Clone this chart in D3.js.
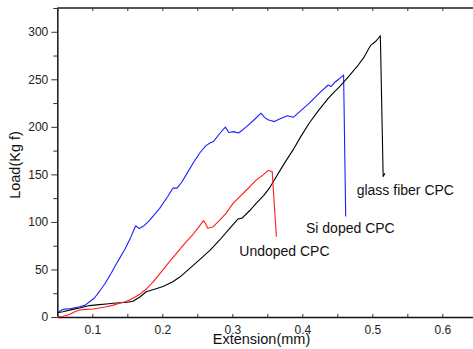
<!DOCTYPE html>
<html><head><meta charset="utf-8">
<script src="https://cdn.jsdelivr.net/npm/d3@7"></script>
<style>
html,body{margin:0;padding:0;background:#fff;}
svg{display:block;font-family:Arial,"Liberation Sans",sans-serif;}
</style></head>
<body>
<svg id="chart" width="473" height="349"></svg>
<script>
// ---- data (extension mm, load Kg f) ----
const siDoped = [
 [0.050,4],[0.053,6],[0.058,8],[0.070,9],[0.082,10.8],[0.090,12.5],[0.096,16],[0.103,20],
 [0.110,26.6],[0.118,35],[0.127,46],[0.136,58],[0.146,70.5],[0.155,84],[0.162,96],[0.167,93],
 [0.174,96],[0.182,102],[0.196,114],[0.208,127],[0.215,135.5],[0.221,135.5],[0.228,142],
 [0.234,149.5],[0.245,163],[0.254,173],[0.262,180],[0.268,183],[0.273,184.5],[0.282,193],
 [0.290,199.7],[0.295,194],[0.302,195],[0.309,193.5],[0.320,200],[0.332,208],[0.341,214.4],
 [0.346,210],[0.351,207.4],[0.360,205.5],[0.370,209],[0.379,211.6],[0.387,210],[0.398,217],
 [0.410,225],[0.425,236],[0.437,244],[0.441,242.4],[0.446,246.6],[0.452,250],[0.459,254.4],
 [0.462,105.6]
];
const glassFiber = [
 [0.050,4.5],[0.058,5.5],[0.072,8],[0.085,10],[0.096,12],[0.110,13],[0.120,13.7],[0.130,14.5],
 [0.139,15],[0.150,15.5],[0.158,16.5],[0.168,21],[0.177,26.6],[0.190,29.5],[0.201,32],
 [0.215,37],[0.225,42],[0.234,47.7],[0.253,60],[0.268,70],[0.282,81],[0.296,93],[0.308,103],
 [0.314,104],[0.325,112],[0.334,119.6],[0.345,128],[0.353,135.5],[0.360,144],[0.373,160],
 [0.387,176],[0.398,190],[0.410,204],[0.423,217],[0.437,230],[0.444,235.5],[0.453,242],
 [0.462,249.5],[0.472,258],[0.480,265],[0.488,273],[0.494,281],[0.498,286],[0.505,290],
 [0.5115,295.8],[0.5155,147.7],[0.518,151.3]
];
const undoped = [
 [0.050,0.3],[0.058,0.5],[0.068,3],[0.075,5.5],[0.082,7.4],[0.092,8],[0.101,8.4],[0.110,9.5],
 [0.120,10.8],[0.130,12.5],[0.139,14.4],[0.147,16],[0.153,18],[0.160,20.5],[0.168,24],
 [0.178,30],[0.187,37],[0.198,47],[0.210,58],[0.222,68.5],[0.234,79],[0.244,87],[0.253,95.5],
 [0.259,101.4],[0.262,98],[0.265,93.4],[0.272,94.6],[0.281,101],[0.291,109],[0.301,119.5],
 [0.310,126],[0.325,137],[0.334,144],[0.344,149.5],[0.351,154],[0.357,153],[0.363,84.5]
];
const seriesNames = ["Si doped CPC","glass fiber CPC","Undoped CPC"];
const seriesColors = ["#1f1fff","#000000","#ff1a1a"];
const labelPos = [[0.4053,88.4],[0.4777,128.4],[0.310,64.2]];
const yMajorTicks = [0,50,100,150,200,250,300];
const yMinorTicks = [25,75,125,175,225,275,325];
const xTicks = [0.05,0.1,0.15,0.2,0.25,0.3,0.35,0.4,0.45,0.5,0.55,0.6,0.65];
const xTickLabels = {"0.1":"0.1","0.2":"0.2","0.3":"0.3","0.4":"0.4","0.5":"0.5","0.6":"0.6"};

// ---- layout ----
const svg = d3.select("#chart");
const x = d3.scaleLinear().domain([0.05,0.65]).range([57.3,477.3]);
const y = d3.scaleLinear().domain([0,325]).range([317,8]);

// frame lines
const axisColor = "#333";
svg.append("line").attr("x1",x(0.05)).attr("x2",x(0.65)).attr("y1",y(325)).attr("y2",y(325))
  .attr("stroke","#555").attr("stroke-width",2);

// bottom axis (ticks inward)
const gx = svg.append("g").attr("transform",`translate(0,${y(0)})`)
  .call(d3.axisBottom(x).tickValues(xTicks).tickSizeInner(-3).tickSizeOuter(0).tickPadding(8)
    .tickFormat(d => xTickLabels[String(+d.toFixed(2))] || ""));
gx.select(".domain").attr("stroke","#111").attr("stroke-width",1.6);
gx.selectAll(".tick line").attr("stroke","#333");
gx.selectAll("text").attr("font-size",12).attr("fill","#222").attr("font-family","Arial,'Liberation Sans',sans-serif");

// top axis ticks (inward)
const gt = svg.append("g").attr("transform",`translate(0,${y(325)})`)
  .call(d3.axisTop(x).tickValues(xTicks).tickSizeInner(-3).tickSizeOuter(0).tickFormat(""));
gt.select(".domain").remove();
gt.selectAll(".tick line").attr("stroke","#333");

// left axis
const gy = svg.append("g").attr("transform",`translate(${x(0.05)},0)`)
  .call(d3.axisLeft(y).tickValues(yMajorTicks).tickSizeInner(6).tickSizeOuter(0).tickPadding(3));
gy.select(".domain").attr("stroke","#222").attr("stroke-width",1.6);
gy.selectAll(".tick line").attr("stroke","#333");
gy.selectAll("text").attr("font-size",12).attr("fill","#222").attr("font-family","Arial,'Liberation Sans',sans-serif");
const gym = svg.append("g").attr("transform",`translate(${x(0.05)},0)`)
  .call(d3.axisLeft(y).tickValues(yMinorTicks).tickSizeInner(4).tickSizeOuter(0).tickFormat(""));
gym.select(".domain").remove();
gym.selectAll(".tick line").attr("stroke","#333");

// series
const line = d3.line().x(d=>x(d[0])).y(d=>y(d[1])).curve(d3.curveLinear);
[siDoped, glassFiber, undoped].forEach((s,i)=>{
  svg.append("path").datum(s).attr("d",line).attr("fill","none")
    .attr("stroke",seriesColors[i]).attr("stroke-width",1.1).attr("stroke-linejoin","round");
});

// labels
seriesNames.forEach((n,i)=>{
  svg.append("text").attr("x",x(labelPos[i][0])).attr("y",y(labelPos[i][1]))
    .attr("font-size",14).attr("fill","#111").text(n);
});

// axis titles
svg.append("text").attr("x",261.5).attr("y",343.5).attr("text-anchor","middle")
  .attr("font-size",14.5).attr("fill","#111").text("Extension(mm)");
svg.append("text").attr("transform","translate(20,165) rotate(-90)").attr("text-anchor","middle")
  .attr("font-size",14.5).attr("fill","#111").text("Load(Kg f)");
</script>
</body></html>
